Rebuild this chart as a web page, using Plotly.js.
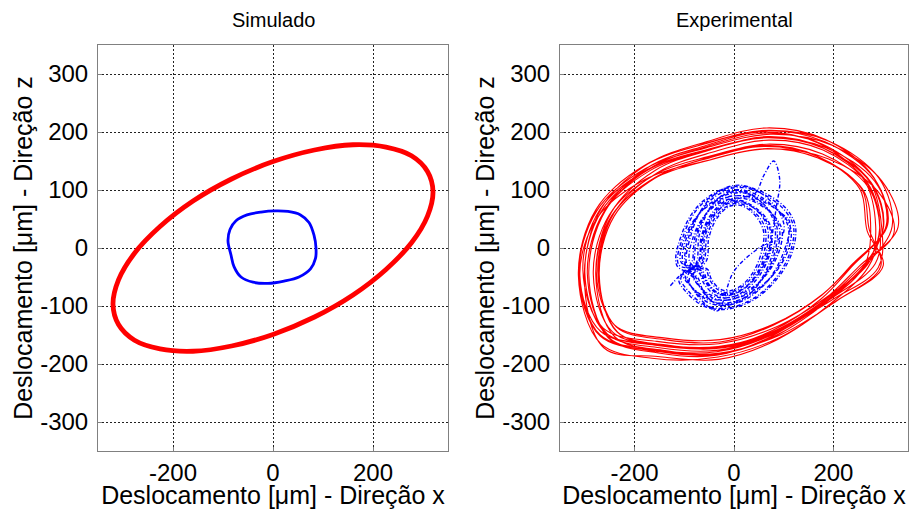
<!DOCTYPE html>
<html><head><meta charset="utf-8">
<script src="https://cdn.plot.ly/plotly-3.0.1.min.js"></script>
<style>html,body{margin:0;padding:0;background:#fff}#c{width:911px;height:509px}</style>
</head><body><div id="c"></div>
<script>
// Titles / labels
const panelTitles = ["Simulado", "Experimental"];
const xLabel = "Deslocamento [μm] - Direção x";
const yLabel = "Deslocamento [μm] - Direção z";
const xTicks = [-200, 0, 200];
const yTicks = [-300, -200, -100, 0, 100, 200, 300];

// Simulated: outer (red) orbit
const simRedX = [320,309,277,226,160,83,0,-83,-160,-226,-277,-309,-320,-309,-277,-226,-160,-83,0,83,160,226,277,309,320];
const simRedY = [97,132,159,174,178,169,149,119,81,37,-9,-55,-97,-132,-159,-174,-178,-169,-149,-119,-81,-37,9,55,97];
// Simulated: inner (blue) orbit
const simBlueX = [-90,-86,-74,-52,-24,5,30,55,72,82,86,85,75,52,22,-10,-40,-64,-78,-84,-90];
const simBlueY = [12,32,47,57,62,64,63,57,44,22,0,-18,-36,-50,-57,-61,-59,-50,-32,-12,12];

// Experimental: outer (red) orbit, successive loops
const expRedX = [
 300,275,180,65,-55,-170,-262,-295,-255,-150,-30,85,190,265,
 318,292,191,69,-58,-180,-278,-313,-268,-165,-32,90,201,295,
 272,256,167,60,-51,-158,-244,-274,-237,-140,-28,79,177,238,
 309,283,185,67,-57,-175,-270,-304,-263,-155,-31,88,196,273,
 285,261,169,57,-59,-171,-260,-292,-253,-152,-35,76,178,251,
 330,298,197,74,-55,-178,-276,-312,-269,-157,-28,95,207,300,
 268,253,166,60,-51,-156,-241,-271,-235,-138,-28,78,175,236,
 306,281,184,66,-56,-173,-267,-301,-262,-153,-31,87,194,270,
 293,269,179,70,-44,-154,-241,-272,-234,-135,-21,89,189,260,
 322,289,189,68,-58,-179,-275,-310,-268,-158,-32,89,200,290,
 297,272,178,64,-54,-168,-259,-292,-252,-149,-30,84,188,262,
 275,259,169,61,-52,-160,-246,-277,-240,-141,-28,80,179,240,
 308,282,183,64,-61,-181,-276,-311,-269,-160,-35,84,194,284,
 294,270,178,66,-50,-162,-251,-283,-244,-143,-26,85,187,260,
 301,276,180,64,-58,-174,-267,-300,-260,-154,-32,84,190,266,
 293,269,178,67,-48,-158,-247,-278,-240,-139,-24,87,187,259,
 300
];
const expRedY = [
 35,112,172,190,168,133,62,-45,-148,-172,-176,-145,-88,-30,
 37,120,184,203,180,142,66,-48,-165,-190,-188,-155,-94,-32,
 32,103,158,175,155,122,57,-41,-136,-158,-162,-133,-81,-28,
 40,115,173,190,169,135,66,-38,-138,-161,-165,-135,-79,-23,
 37,118,181,200,176,140,65,-47,-155,-181,-185,-152,-92,-32,
 36,115,177,196,173,137,64,-46,-152,-177,-181,-149,-91,-31,
 29,102,159,177,156,122,55,-47,-145,-167,-171,-142,-88,-33,
 38,122,187,207,183,145,68,-49,-172,-187,-192,-158,-96,-33,
 34,110,169,186,165,130,61,-44,-145,-169,-172,-142,-86,-29,
 27,98,154,171,150,118,52,-48,-144,-166,-170,-141,-88,-34,
 36,116,179,198,175,138,64,-47,-154,-179,-183,-151,-92,-31,
 32,101,155,171,151,120,56,-41,-133,-155,-158,-131,-79,-27,
 40,120,183,202,179,142,68,-43,-150,-175,-179,-147,-88,-27,
 31,105,162,179,158,125,57,-46,-145,-168,-172,-142,-87,-32,
 37,113,172,190,168,134,63,-43,-145,-168,-172,-142,-85,-28,
 34,112,173,192,169,134,61,-48,-153,-177,-182,-150,-92,-33,
 35
];

// Experimental: inner (blue) orbit, successive loops
const expBlueX = [
 -128,-112,-96,
 -85,-78,-55,-20,15,50,80,92,85,60,25,-15,-45,-70,-82,
 -60,-55,-39,-14,11,35,56,64,60,42,18,-11,-32,-49,-57,
 -111,-101,-72,-26,20,65,104,120,111,78,33,-20,-59,-91,-107,
 -72,-66,-47,-17,13,43,60,80,92,85,78,72,51,21,-13,-38,-60,-70,
 -102,-94,-66,-24,18,60,96,110,102,72,30,-18,-54,-84,-98,
 -64,-59,-41,-15,11,38,60,69,64,45,19,-11,-34,-53,-62,
 -94,-86,-61,-22,17,55,88,101,94,54,0,-32,-50,-77,-90,
 -55,-51,-36,-13,10,33,52,60,55,39,16,-10,-29,-46,-53,
 -106,-98,-69,-25,19,63,100,115,106,75,31,-19,-56,-88,-103,
 -77,-70,-50,-18,14,45,72,83,77,54,23,-14,-41,-63,-74,
 -115,-105,-74,-27,20,68,108,124,115,81,34,-20,-61,-95,-111,
 -68,-62,-44,-16,12,40,64,74,68,48,20,-12,-36,-56,-66,
 -89,-82,-58,-21,16,53,84,97,89,63,26,-16,-47,-74,-86,
 -81,-74,-52,-19,14,48,76,87,81,57,24,-14,-43,-67,-78,
 -98,-90,-63,-23,17,58,92,112,98,69,29,-17,-52,-81,-94,
 -70,-64,-45,-17,13,42,66,76,70,49,21,-12,-37,-58,-68
];
const expBlueY = [
 -65,-50,-36,
 -25,20,60,85,90,78,55,30,-10,-50,-78,-90,-85,-65,-45,
 -21,17,51,72,77,66,47,26,-9,-43,-66,-77,-72,-55,-38,
 -29,23,69,98,104,90,63,35,-12,-58,-90,-104,-98,-75,-52,
 -24,19,57,81,86,95,125,150,118,70,29,-10,-48,-74,-86,-81,-62,-43,
 -26,21,63,89,95,82,58,32,-11,-53,-82,-95,-89,-68,-47,
 -23,18,54,77,81,70,50,27,-9,-45,-70,-81,-77,-59,-41,
 -30,24,72,102,108,94,66,36,18,2,-40,-108,-102,-78,-54,
 -21,16,49,70,74,64,45,25,-8,-41,-64,-74,-70,-53,-37,
 -25,20,60,85,90,78,55,30,-10,-50,-78,-90,-85,-65,-45,
 -28,22,66,94,99,86,61,33,-11,-55,-86,-99,-94,-72,-50,
 -30,24,71,100,106,92,65,35,-12,-59,-92,-106,-100,-77,-53,
 -22,18,53,75,79,69,48,26,-9,-44,-69,-79,-75,-57,-40,
 -24,19,57,81,86,74,52,29,-10,-48,-74,-86,-81,-62,-43,
 -27,22,65,92,97,84,59,32,-11,-54,-84,-97,-92,-70,-49,
 -28,22,68,96,100,86,62,45,-11,-55,-86,-99,-94,-72,-50,
 -22,18,55,78,82,70,50,28,-9,-45,-70,-82,-77,-58,-40
];

const font = "Liberation Sans, Arial, sans-serif";
const traces = [
 {x: simRedX, y: simRedY, xaxis:'x', yaxis:'y', mode:'lines', line:{color:'#ff0000', width:4.8, shape:'spline', smoothing:1}, hoverinfo:'skip'},
 {x: simBlueX, y: simBlueY, xaxis:'x', yaxis:'y', mode:'lines', line:{color:'#0000ff', width:2.8, shape:'spline', smoothing:1}, hoverinfo:'skip'},
 {x: expRedX, y: expRedY, xaxis:'x2', yaxis:'y2', mode:'lines', line:{color:'#ff0000', width:1.1, shape:'spline', smoothing:1}, hoverinfo:'skip'},
 {x: expBlueX, y: expBlueY, xaxis:'x2', yaxis:'y2', mode:'lines', line:{color:'#0000ff', width:1.4, shape:'spline', smoothing:1, dash:'4px,2px,1px,2px'}, hoverinfo:'skip'}
];

function xa(dom){return {domain:dom, range:[-350,350], tickvals:xTicks, ticktext:xTicks.map(String),
  showgrid:true, gridcolor:'#222', griddash:'2px,2px', gridwidth:1, zeroline:false,
  showline:true, mirror:true, linecolor:'#808080', linewidth:1, ticks:'inside', ticklen:4, tickcolor:'#808080',
  tickfont:{family:font, size:24, color:'#000'}, ticklabelstandoff:0,
  title:{text:xLabel, font:{family:font, size:25, color:'#000'}, standoff:2}, fixedrange:true};}
function ya(dom, anchor){return {domain:dom, anchor:anchor, range:[-350,350], tickvals:yTicks, ticktext:yTicks.map(String),
  showgrid:true, gridcolor:'#222', griddash:'2px,2px', gridwidth:1, zeroline:false,
  showline:true, mirror:true, linecolor:'#808080', linewidth:1, ticks:'inside', ticklen:4, tickcolor:'#808080',
  tickfont:{family:font, size:24, color:'#000'}, ticklabelstandoff:4,
  title:{text:yLabel, font:{family:font, size:25, color:'#000'}, standoff:0}, fixedrange:true};}

const W=911, H=509;
const yDom = [1-451/H, 1-45/H];
const layout = {
  width:W, height:H, margin:{l:0,r:0,t:0,b:0}, showlegend:false,
  paper_bgcolor:'#fff', plot_bgcolor:'#fff',
  xaxis: Object.assign(xa([98/W, 448/W]), {anchor:'y'}),
  yaxis: ya(yDom, 'x'),
  xaxis2: Object.assign(xa([560/W, 908/W]), {anchor:'y2'}),
  yaxis2: ya(yDom, 'x2'),
  annotations: [
    {text:panelTitles[0], x:(98+448)/2/W, y:1-20/H, xref:'paper', yref:'paper', showarrow:false, xanchor:'center', yanchor:'middle', font:{family:font, size:20, color:'#000'}},
    {text:panelTitles[1], x:(560+908)/2/W, y:1-20/H, xref:'paper', yref:'paper', showarrow:false, xanchor:'center', yanchor:'middle', font:{family:font, size:20, color:'#000'}}
  ]
};
Plotly.newPlot('c', traces, layout, {staticPlot:true, displayModeBar:false});
</script></body></html>
